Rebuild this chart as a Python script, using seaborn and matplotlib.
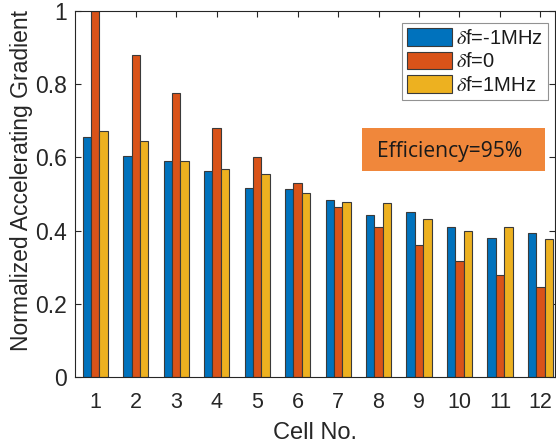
import matplotlib
matplotlib.use("Agg")
import matplotlib.pyplot as plt
import matplotlib.patches as mpatches
import seaborn as sns
import pandas as pd

cells = [str(i) for i in range(1, 13)]
series_names = [r"$\delta$f=-1MHz", r"$\delta$f=0", r"$\delta$f=1MHz"]
minus1 = [0.656, 0.603, 0.591, 0.564, 0.517, 0.515, 0.483, 0.442, 0.450, 0.411, 0.380, 0.394]
zero = [1.000, 0.880, 0.775, 0.681, 0.601, 0.530, 0.464, 0.409, 0.360, 0.317, 0.278, 0.245]
plus1 = [0.671, 0.644, 0.589, 0.567, 0.554, 0.503, 0.478, 0.476, 0.433, 0.398, 0.409, 0.377]
colors = ["#0072BD", "#D95319", "#EDB120"]

sns.set_theme(style="white")
plt.rcParams["font.family"] = ["Liberation Sans", "DejaVu Sans"]
plt.rcParams["mathtext.fontset"] = "stix"

rows = []
for name, vals in zip(series_names, [minus1, zero, plus1]):
    for c, v in zip(cells, vals):
        rows.append({"cell": c, "series": name, "value": v})
df = pd.DataFrame(rows)

W, H = 556, 447
fig = plt.figure(figsize=(W / 100, H / 100), dpi=100)
ax = fig.add_axes([75 / W, 1 - 377 / H, (555 - 75) / W, (377 - 11) / H])

sns.barplot(data=df, x="cell", y="value", hue="series", order=cells,
            hue_order=series_names, palette=colors, width=0.62,
            edgecolor="#3a3a3a", linewidth=0.8, saturation=1, ax=ax)

ax.set_xlim(-0.5, 11.36)
ax.set_ylim(0, 1)
ax.set_yticks([0, 0.2, 0.4, 0.6, 0.8, 1.0])
ax.set_yticklabels(["0", "0.2", "0.4", "0.6", "0.8", "1"])
ax.tick_params(axis="both", direction="in", length=4, width=0.8,
               colors="#262626", top=True, right=True, bottom=True, left=True)
ax.tick_params(axis="x", labelsize=15.5, pad=10.5)
ax.tick_params(axis="y", labelsize=16.5, pad=6)
for s in ax.spines.values():
    s.set_visible(True)
    s.set_color("#262626")
    s.set_linewidth(0.8)
ax.set_xlabel("Cell No.", fontsize=17, color="#262626", labelpad=7)
ax.set_ylabel("Normalized Accelerating Gradient", fontsize=16.5, color="#262626")
ax.yaxis.set_label_coords(-0.087, 0.538)

handles = [mpatches.Patch(facecolor=c, edgecolor="#3a3a3a", linewidth=0.8) for c in colors]
leg = ax.legend(handles, series_names, loc="upper right",
                bbox_to_anchor=(548 / W, 1 - 22.7 / H), bbox_transform=fig.transFigure,
                borderaxespad=0, fontsize=14.5, handlelength=2.2, handleheight=0.98,
                handletextpad=0.2, labelspacing=0.18, borderpad=0.27,
                frameon=True, fancybox=False, edgecolor="#777777")
leg.get_frame().set_linewidth(0.8)
for t in leg.get_texts():
    t.set_color("#1a1a1a")

fig.patches.append(mpatches.Rectangle((362 / W, 1 - 170.7 / H), (545 - 362) / W, 43 / H,
                                      transform=fig.transFigure, facecolor="#F0873B",
                                      edgecolor="none", zorder=5))
fig.text(449.5 / W, 1 - 156.7 / H, "Efficiency=95%", ha="center", va="baseline",
         fontsize=15.2, color="#1a1a1a", family=["Open Sans", "DejaVu Sans"], zorder=6)

fig.savefig("out.png", dpi=100)
